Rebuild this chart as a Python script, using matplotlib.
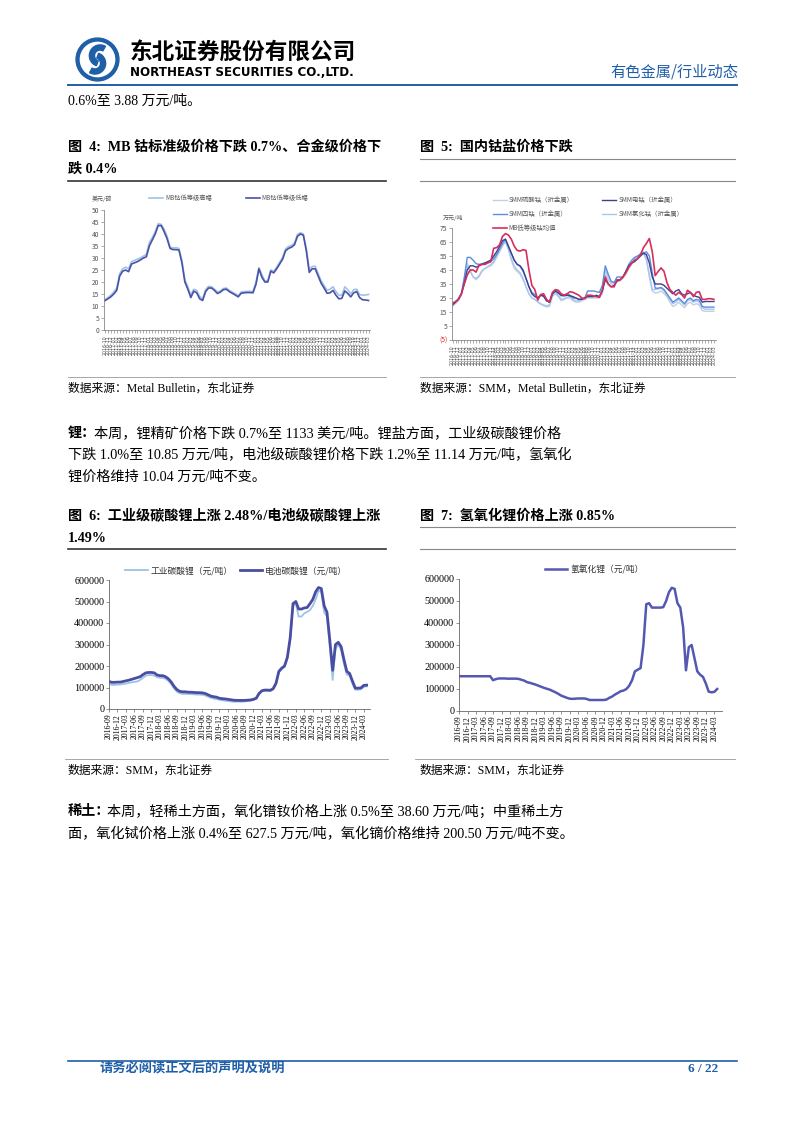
import matplotlib
matplotlib.use('Agg')
import matplotlib.pyplot as plt
import matplotlib.patches as mpatches
from matplotlib.lines import Line2D
import numpy as np
import pandas as pd

W, H = 802, 1133
SERIF = ['Liberation Serif', 'Noto Sans CJK SC']
CJK = ['Noto Sans CJK SC', 'DejaVu Sans']
BLUE = '#1f5fa8'

# ---- Fig 4: MB cobalt, USD/lb, monthly 2016-10 .. 2024-03
cobalt_months = pd.date_range('2016-10', '2024-03', freq='MS').strftime('%Y-%m').tolist()
mb_high = [12.6, 13.5, 14.5,
           15.8, 17.5, 23.5, 25.5, 26.2, 25.5, 28.5, 29.0, 29.5, 30.0, 30.8, 31.5,
           36.5, 38.5, 41.0, 44.3, 44.0, 42.0, 39.0, 34.5, 34.2, 34.3, 34.0, 29.0,
           21.0, 18.0, 14.5, 17.0, 16.5, 14.0, 13.0, 16.8, 18.2, 18.0, 17.0, 15.8,
           16.3, 17.3, 17.5, 16.5, 15.8, 15.1, 14.3, 15.8, 16.0, 16.1, 16.1, 16.0,
           20.0, 26.0, 23.0, 20.5, 20.5, 25.0, 24.5, 26.2, 28.2, 30.3, 33.8, 34.8,
           35.2, 36.2, 39.8, 40.5, 40.0, 34.0, 25.0, 26.5, 26.5, 23.5, 20.5, 18.5,
           16.5, 17.0, 18.0, 16.0, 14.5, 14.5, 18.0, 16.8, 15.0, 16.8, 17.0, 14.8,
           14.5, 14.6, 14.8]
mb_low = [12.2, 13.0, 13.8,
          15.0, 16.5, 22.5, 24.5, 25.0, 24.3, 27.5, 28.0, 28.5, 29.2, 30.0, 30.5,
          35.0, 37.5, 40.0, 43.5, 43.5, 41.0, 38.0, 34.0, 33.5, 33.5, 33.3, 28.0,
          20.0, 17.0, 13.5, 16.2, 15.5, 13.0, 12.3, 16.0, 17.5, 17.5, 16.5, 15.2,
          15.8, 16.8, 17.0, 16.0, 15.3, 14.6, 13.8, 15.3, 15.5, 15.6, 15.6, 15.5,
          19.0, 25.5, 22.0, 20.0, 20.0, 24.5, 23.8, 25.5, 27.5, 29.5, 33.0, 34.0,
          34.5, 35.5, 39.0, 40.0, 39.5, 33.0, 24.0, 25.5, 25.5, 22.5, 19.5, 17.5,
          15.3, 15.5, 16.5, 14.5, 13.0, 13.2, 16.3, 15.2, 13.8, 15.5, 16.0, 13.5,
          12.6, 12.5, 12.3]

# ---- Fig 5: domestic cobalt salts, 10k CNY/t, monthly 2016-10 .. 2024-03
mb_avg = [21.3, 22.5, 24.0,
          28.0, 35.0, 41.5, 45.0, 45.0, 43.5, 48.5, 49.0, 49.0, 50.0, 51.0, 60.5,
          61.0, 63.0, 69.0, 71.0, 70.0, 67.0, 62.0, 59.0, 58.5, 59.5, 59.0, 45.0,
          34.0, 31.0, 23.5, 27.5, 28.0, 24.0, 22.0, 29.0, 31.0, 30.5, 28.0, 27.0,
          28.0, 29.5, 29.0, 28.0, 27.0, 25.0, 24.5, 27.0, 27.0, 26.5, 26.0, 25.5,
          31.0, 40.0, 35.0, 33.0, 33.0, 38.0, 38.0, 40.0, 43.0, 47.0, 50.0, 52.0,
          53.0, 56.0, 61.0, 64.0, 67.5, 58.0, 41.0, 44.0, 46.5, 44.0, 36.0, 31.0,
          29.0, 27.0, 29.0, 27.5, 25.0, 30.5, 29.0, 26.0, 29.0, 29.5, 24.0, 24.0,
          24.5, 24.5, 24.0]
smm_tetroxide = [20.0, 22.0, 24.0,
                 28.0, 40.0, 54.0, 54.0, 52.0, 49.5, 49.0, 49.5, 50.0, 50.5, 51.0, 53.0,
                 56.0, 60.0, 64.0, 67.0, 62.0, 57.0, 52.0, 49.0, 47.5, 44.0, 39.0, 33.0,
                 29.0, 27.5, 25.0, 27.0, 26.0, 23.0, 22.0, 28.0, 30.5, 29.0, 26.5, 27.0,
                 28.0, 27.0, 25.0, 25.0, 24.0, 24.5, 25.0, 30.0, 30.0, 30.0, 29.5, 29.0,
                 34.0, 48.0, 42.0, 37.0, 36.0, 40.0, 40.0, 40.0, 44.0, 49.0, 52.0, 54.0,
                 55.0, 56.0, 57.0, 58.0, 55.0, 43.0, 32.0, 32.0, 32.5, 31.0, 28.0, 25.0,
                 22.0, 23.5, 25.0, 23.0, 21.0, 24.0, 25.0, 23.0, 24.0, 23.5, 19.0, 18.5,
                 18.5, 18.5, 18.5]
smm_electro = [20.5, 22.0, 24.5,
               28.0, 36.0, 45.0, 48.0, 48.0, 47.0, 48.0, 49.0, 50.0, 51.0, 52.0, 55.0,
               58.0, 62.0, 66.0, 67.0, 62.0, 57.0, 52.0, 49.0, 48.0, 45.0, 39.0, 33.0,
               28.0, 26.0, 25.0, 27.0, 26.5, 23.0, 22.0, 28.0, 30.0, 28.5, 27.0, 26.5,
               27.0, 26.5, 26.0, 25.0, 24.0, 24.0, 25.0, 26.0, 26.0, 26.0, 27.0, 26.0,
               30.0, 38.0, 35.0, 33.0, 34.0, 37.0, 38.0, 40.0, 44.0, 48.0, 50.0, 51.0,
               53.0, 55.0, 57.0, 56.0, 50.0, 40.0, 35.0, 35.0, 35.0, 34.0, 32.0, 30.0,
               28.0, 30.0, 31.0, 28.0, 27.0, 28.0, 29.0, 27.0, 26.0, 25.5, 22.0, 22.5,
               22.5, 22.5, 22.5]
smm_sulfate = [19.0, 21.0, 23.0,
               27.0, 38.0, 50.0, 45.0, 40.0, 38.0, 40.0, 44.0, 46.0, 47.0, 48.0, 50.0,
               54.0, 58.0, 62.0, 66.0, 60.0, 52.0, 46.0, 44.0, 42.0, 38.0, 33.0, 28.0,
               25.0, 24.0, 22.0, 20.5, 19.5, 18.5, 19.0, 26.0, 28.0, 26.0, 23.0, 24.0,
               25.0, 25.0, 23.0, 22.0, 22.0, 23.0, 24.0, 25.0, 25.0, 25.0, 25.0, 25.0,
               28.0, 42.0, 38.0, 35.0, 35.0, 37.0, 37.0, 39.0, 42.0, 46.0, 49.0, 52.0,
               54.0, 56.0, 57.0, 52.0, 40.0, 30.0, 28.5, 29.0, 30.0, 28.0, 26.0, 22.0,
               19.0, 20.0, 22.0, 20.0, 18.0, 21.0, 22.0, 20.0, 21.0, 20.0, 16.0, 15.5,
               15.5, 15.5, 15.5]
smm_chloride = [20.0, 22.0, 24.0,
                28.0, 37.0, 48.0, 44.0, 40.0, 39.0, 41.0, 44.5, 46.0, 47.5, 49.0, 51.0,
                55.0, 59.0, 63.0, 65.0, 60.0, 53.0, 48.0, 45.0, 43.0, 39.0, 33.0, 28.0,
                25.0, 24.0, 22.5, 21.0, 20.0, 19.5, 20.0, 27.0, 29.0, 27.0, 24.0, 24.5,
                25.5, 26.0, 24.0, 23.0, 23.0, 24.0, 25.0, 26.0, 26.0, 26.0, 26.0, 26.0,
                30.0, 45.0, 40.0, 36.0, 36.0, 38.0, 38.0, 40.0, 43.0, 47.0, 50.0, 53.0,
                55.0, 57.0, 58.0, 53.0, 42.0, 31.0, 31.0, 31.5, 32.0, 30.0, 27.0, 24.0,
                21.0, 22.0, 24.0, 22.0, 20.0, 23.0, 24.0, 22.0, 23.0, 22.0, 18.0, 17.0,
                17.0, 17.0, 17.0]

# ---- Fig 6/7: lithium salts, CNY/t, monthly 2016-09 .. 2024-04
li_months = pd.date_range('2016-09', '2024-04', freq='MS')
li2co3_ind = [118e3, 112e3, 112e3, 113e3,
              114e3, 116e3, 118e3, 121e3, 124e3, 126e3, 128e3, 135e3, 145e3, 155e3, 158e3, 158e3,
              155e3, 148e3, 145e3, 145e3, 140e3, 130e3, 115e3, 95e3, 80e3, 73e3, 70e3, 70e3,
              70e3, 69e3, 68e3, 67e3, 67e3, 66e3, 63e3, 57e3, 52e3, 48e3, 46e3, 43e3,
              40e3, 39e3, 37e3, 35e3, 34e3, 34e3, 34e3, 34e3, 35e3, 37e3, 39e3, 42e3,
              48e3, 68e3, 82e3, 84e3, 84e3, 84e3, 90e3, 115e3, 170e3, 185e3, 195e3, 235e3,
              320e3, 480e3, 490e3, 430e3, 430e3, 445e3, 452e3, 460e3, 480e3, 510e3, 550e3, 545e3,
              450e3, 430e3, 290e3, 135e3, 280e3, 300e3, 275e3, 210e3, 160e3, 155e3, 118e3, 90e3,
              90e3, 92e3, 103e3, 105e3]
li2co3_bat = [128e3, 124e3, 124e3, 125e3,
              125e3, 128e3, 131e3, 134e3, 138e3, 142e3, 146e3, 150e3, 160e3, 168e3, 170e3, 170e3,
              168e3, 158e3, 155e3, 155e3, 150e3, 140e3, 125e3, 105e3, 90e3, 82e3, 80e3, 80e3,
              78e3, 78e3, 77e3, 76e3, 76e3, 75e3, 72e3, 66e3, 60e3, 57e3, 55e3, 50e3,
              48e3, 47e3, 45e3, 43e3, 41e3, 40e3, 40e3, 40e3, 40e3, 41e3, 42e3, 45e3,
              50e3, 72e3, 85e3, 88e3, 88e3, 87e3, 95e3, 120e3, 175e3, 190e3, 200e3, 240e3,
              330e3, 490e3, 500e3, 465e3, 465e3, 470e3, 472e3, 490e3, 510e3, 545e3, 565e3, 560e3,
              480e3, 450e3, 320e3, 180e3, 300e3, 310e3, 290e3, 230e3, 175e3, 165e3, 130e3, 97e3,
              97e3, 98e3, 110e3, 111e3]
lioh = [158e3, 158e3, 158e3, 158e3,
        158e3, 158e3, 158e3, 158e3, 158e3, 158e3, 158e3, 158e3, 140e3, 145e3, 148e3, 148e3,
        148e3, 147e3, 147e3, 147e3, 147e3, 146e3, 142e3, 138e3, 131e3, 128e3, 124e3, 120e3,
        115e3, 110e3, 105e3, 101e3, 97e3, 91e3, 85e3, 78e3, 70e3, 65e3, 60e3, 56e3,
        55e3, 56e3, 57e3, 57e3, 57e3, 55e3, 50e3, 50e3, 50e3, 50e3, 50e3, 50e3,
        52e3, 60e3, 66e3, 75e3, 82e3, 90e3, 93e3, 100e3, 115e3, 140e3, 180e3, 188e3,
        195e3, 300e3, 485e3, 490e3, 470e3, 470e3, 470e3, 470e3, 472e3, 500e3, 540e3, 560e3,
        555e3, 490e3, 470e3, 380e3, 185e3, 290e3, 300e3, 240e3, 180e3, 165e3, 155e3, 125e3,
        88e3, 85e3, 87e3, 100e3]
li_yticks = [0, 100000, 200000, 300000, 400000, 500000, 600000]


def box(l, t, r, b):
    return [l / W, 1 - b / H, (r - l) / W, (b - t) / H]


def put(x, y, s, **kw):
    kw.setdefault('va', 'center')
    kw.setdefault('family', SERIF)
    fig.text(x / W, 1 - y / H, s, **kw)


def hline(x0, x1, y, color='#404040', lw=1.0):
    fig.add_artist(Line2D([x0 / W, x1 / W], [1 - y / H, 1 - y / H], color=color, lw=lw))


def style_axes(ax, color='#888888'):
    for s in ['top', 'right']:
        ax.spines[s].set_visible(False)
    for s in ['left', 'bottom']:
        ax.spines[s].set_color(color)
        ax.spines[s].set_linewidth(0.6)
    ax.tick_params(length=2, width=0.5, color=color, pad=1.5)


fig = plt.figure(figsize=(W / 100, H / 100), dpi=100)

# ---------------- header
axl = fig.add_axes(box(75, 37, 120, 82))
axl.set_xlim(-1.05, 1.05)
axl.set_ylim(-1.05, 1.05)
axl.set_aspect('equal')
axl.axis('off')
axl.add_patch(mpatches.Circle((0, 0), 1.0, color=BLUE))
axl.add_patch(mpatches.Circle((0, 0), 0.8, color='white'))
axl.add_patch(mpatches.Wedge((0.12, 0.18), 0.5, 60, 250, width=0.24, color=BLUE))
axl.add_patch(mpatches.Wedge((-0.12, -0.18), 0.5, 240, 70, width=0.24, color=BLUE))

put(130, 52, '东北证券股份有限公司', family=CJK, fontsize=16.3, fontweight='bold')
put(130, 72, 'NORTHEAST SECURITIES CO.,LTD.', family=['DejaVu Sans'], fontsize=8.6, fontweight='bold')
put(738, 72, '有色金属/行业动态', family=CJK, fontsize=11, color=BLUE, ha='right')
hline(68, 737, 85, color=BLUE, lw=1.4)

put(68, 101, '0.6%至 3.88 万元/吨。', fontsize=10)

# ---------------- titles
put(68, 147, '图  4:  MB 钴标准级价格下跌 0.7%、合金级价格下', fontsize=10.2, fontweight='bold')
put(68, 169, '跌 0.4%', fontsize=10.2, fontweight='bold')
hline(68, 386, 181, color='#333333', lw=1.2)
put(420, 147, '图  5:  国内钴盐价格下跌', fontsize=10.2, fontweight='bold')
hline(420, 735, 159, color='#888888', lw=0.8)
hline(420, 735, 181, color='#888888', lw=0.8)

# ---------------- chart 4
ax4 = fig.add_axes(box(104, 210, 370, 330))
x4 = np.arange(len(mb_high))
l_hi, = ax4.plot(x4, mb_high, color='#9dc3e6', lw=1.2, label='MB钴低等级高幅')
l_lo, = ax4.plot(x4, mb_low, color='#4a52a6', lw=1.2, label='MB钴低等级低幅')
ax4.set_xlim(-0.3, len(mb_high) - 0.5)
ax4.set_ylim(0, 50)
ax4.set_yticks(range(0, 51, 5))
ax4.set_yticklabels([str(v) for v in range(0, 51, 5)], fontsize=4.8, color='#555555', family=CJK)
ax4.set_xticks(x4)
ax4.set_xticklabels(cobalt_months, rotation=90, fontsize=3.4, color='#555555', family=['DejaVu Sans'])
style_axes(ax4)
ax4.legend(handles=[l_hi, l_lo], loc='center', bbox_to_anchor=(229 / W, 1 - 198 / H),
           bbox_transform=fig.transFigure, ncol=2, frameon=False, handlelength=2.2,
           handletextpad=0.3, columnspacing=5.5, prop={'family': CJK, 'size': 4.5}, labelcolor='#555555')
put(92, 199, '美元/磅', family=CJK, fontsize=4.3, color='#555555')

# ---------------- chart 5
ax5 = fig.add_axes(box(452, 228, 716, 340))
x5 = np.arange(len(mb_avg))
c_sul, = ax5.plot(x5, smm_sulfate, color='#c3cfdf', lw=1.0, label='SMM硫酸钴（折金属）')
c_chl, = ax5.plot(x5, smm_chloride, color='#a7c7ec', lw=1.0, label='SMM氯化钴（折金属）')
c_tet, = ax5.plot(x5, smm_tetroxide, color='#5b8de0', lw=1.0, label='SMM四钴（折金属）')
c_ele, = ax5.plot(x5, smm_electro, color='#3d3f8f', lw=1.0, label='SMM电钴（折金属）')
c_mb, = ax5.plot(x5, mb_avg, color='#d62f5b', lw=1.2, label='MB低等级钴均值')
ax5.set_xlim(-0.2, len(mb_avg) - 0.3)
ax5.set_ylim(-5, 75)
yt5 = list(range(-5, 76, 10))
ax5.set_yticks(yt5)
ax5.set_yticklabels(['(5)' if v < 0 else str(v) for v in yt5], fontsize=4.8, color='#555555', family=CJK)
ax5.get_yticklabels()[0].set_color('#e03030')
ax5.set_xticks(x5)
ax5.set_xticklabels(cobalt_months, rotation=90, fontsize=3.4, color='#555555', family=['DejaVu Sans'])
style_axes(ax5)
ax5.legend(handles=[c_sul, c_tet, c_mb, c_ele, c_chl], loc='center', bbox_to_anchor=(588 / W, 1 - 214 / H),
           bbox_transform=fig.transFigure, ncol=2, frameon=False, handlelength=2.2,
           handletextpad=0.3, columnspacing=4.5, labelspacing=0.9,
           prop={'family': CJK, 'size': 4.6}, labelcolor='#555555')
put(443, 218, '万元/吨', family=CJK, fontsize=4.3, color='#555555')

hline(68, 386, 377, color='#999999', lw=0.6)
hline(420, 735, 377, color='#999999', lw=0.6)
put(68, 389, '数据来源：Metal Bulletin，东北证券', fontsize=8.5)
put(420, 389, '数据来源：SMM，Metal Bulletin，东北证券', fontsize=8.5)

# ---------------- body text
put(68, 433, '锂：', fontsize=10.2, fontweight='bold')
put(94, 433, '本周，锂精矿价格下跌 0.7%至 1133 美元/吨。锂盐方面，工业级碳酸锂价格', fontsize=10.2)
put(68, 455, '下跌 1.0%至 10.85 万元/吨，电池级碳酸锂价格下跌 1.2%至 11.14 万元/吨，氢氧化', fontsize=10.2)
put(68, 477, '锂价格维持 10.04 万元/吨不变。', fontsize=10.2)

# ---------------- titles 6/7
put(68, 516, '图  6:  工业级碳酸锂上涨 2.48%/电池级碳酸锂上涨', fontsize=10.2, fontweight='bold')
put(68, 538, '1.49%', fontsize=10.2, fontweight='bold')
hline(68, 386, 549, color='#333333', lw=1.2)
put(420, 516, '图  7:  氢氧化锂价格上涨 0.85%', fontsize=10.2, fontweight='bold')
hline(420, 735, 527, color='#888888', lw=0.8)
hline(420, 735, 549, color='#888888', lw=0.8)

li_x = np.arange(len(li_months))
q_idx = [i for i, d in enumerate(li_months) if d.month % 3 == 0]
q_lab = [li_months[i].strftime('%Y-%m') for i in q_idx]

# ---------------- chart 6
ax6 = fig.add_axes(box(109, 580, 370, 709))
p_ind, = ax6.plot(li_x, li2co3_ind, color='#9dc3e6', lw=1.3, label='工业碳酸锂（元/吨）')
p_bat, = ax6.plot(li_x, li2co3_bat, color='#4a4ea3', lw=2.0, label='电池碳酸锂（元/吨）')
ax6.set_xlim(0, 92.2)
ax6.set_ylim(0, 600000)
ax6.set_yticks(li_yticks)
ax6.set_yticklabels([str(v) for v in li_yticks], fontsize=7.3, family=SERIF)
ax6.set_xticks(q_idx)
ax6.set_xticklabels(q_lab, rotation=90, fontsize=5.6, family=SERIF)
style_axes(ax6, color='#666666')
ax6.legend(handles=[p_ind, p_bat], loc='center', bbox_to_anchor=(236 / W, 1 - 571 / H),
           bbox_transform=fig.transFigure, ncol=2, frameon=False, handlelength=2.6,
           handletextpad=0.3, columnspacing=0.8, prop={'family': CJK, 'size': 6.3}, labelcolor='#333333')

# ---------------- chart 7
ax7 = fig.add_axes(box(459, 579, 722, 711))
p_oh, = ax7.plot(li_x, lioh, color='#5558b0', lw=1.8, label='氢氧化锂（元/吨）')
ax7.set_xlim(0, 92.7)
ax7.set_ylim(0, 600000)
ax7.set_yticks(li_yticks)
ax7.set_yticklabels([str(v) for v in li_yticks], fontsize=7.3, family=SERIF)
ax7.set_xticks(q_idx)
ax7.set_xticklabels(q_lab, rotation=90, fontsize=5.6, family=SERIF)
style_axes(ax7, color='#666666')
ax7.legend(handles=[p_oh], loc='center', bbox_to_anchor=(594 / W, 1 - 570 / H),
           bbox_transform=fig.transFigure, frameon=False, handlelength=2.6,
           handletextpad=0.3, prop={'family': CJK, 'size': 6.3}, labelcolor='#333333')

hline(65, 388, 759, color='#999999', lw=0.6)
hline(415, 735, 759, color='#999999', lw=0.6)
put(68, 771, '数据来源：SMM，东北证券', fontsize=8.5)
put(420, 771, '数据来源：SMM，东北证券', fontsize=8.5)

# ---------------- rare earth text
put(68, 812, '稀土：', fontsize=10.2, fontweight='bold')
put(107, 812, '本周，轻稀土方面，氧化镨钕价格上涨 0.5%至 38.60 万元/吨；中重稀土方', fontsize=10.2)
put(68, 834, '面，氧化铽价格上涨 0.4%至 627.5 万元/吨，氧化镝价格维持 200.50 万元/吨不变。', fontsize=10.2)

# ---------------- footer
hline(68, 737, 1061, color=BLUE, lw=1.2)
put(100, 1069, '请务必阅读正文后的声明及说明', family=CJK, fontsize=9.5, fontweight='bold', color=BLUE)
put(718, 1069, '6 / 22', fontsize=9.5, fontweight='bold', color=BLUE, ha='right')

fig.savefig('out.png', dpi=100)
